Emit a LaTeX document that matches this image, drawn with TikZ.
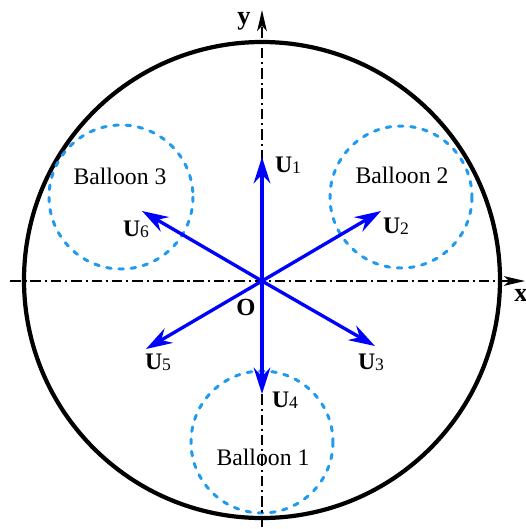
\documentclass[tikz,border=0pt]{standalone}
\usepackage{fontspec}
\setmainfont{Liberation Serif}
\usetikzlibrary{arrows.meta}
\definecolor{vecblue}{HTML}{0000FF}
\definecolor{sky}{HTML}{1E9BF0}
\newcommand{\uvec}[1]{{\bfseries U}{\fontsize{10pt}{12pt}\selectfont\raisebox{-0.5pt}{#1}}}
\tikzset{
  wall/.style={draw=black, line width=2.4pt},
  balloon/.style={draw=sky, line width=1.7pt, line cap=round, dash pattern=on 2.6pt off 4.4pt},
  axisline/.style={-{Stealth[length=12pt,width=5.5pt,inset=3pt]}, line width=1pt,
    dash pattern=on 6pt off 2.2pt on 1.2pt off 2.2pt},
  vec/.style={-{Stealth[length=15pt,width=9.5pt,inset=5pt]}, line width=1.9pt, draw=vecblue},
  lab/.style={font=\fontsize{13.5pt}{16pt}\selectfont, text=black, inner sep=1pt},
  axlab/.style={font=\fontsize{15pt}{18pt}\selectfont\bfseries, inner sep=1pt},
}
\begin{document}
\begin{tikzpicture}[x=0.02cm, y=-0.02cm]
  \useasboundingbox (0,0) rectangle (526,529);
  \coordinate (O) at (262,281);
  % outer wall and balloons
  \draw[wall] (262,280) circle (238);
  \draw[balloon] (401,197) circle (71);
  \draw[balloon] (121,197) circle (72);
  \draw[balloon] (262,442) circle (71);
  % axes
  \coordinate (xl) at (10,281);
  \coordinate (xr) at (525,281);
  \coordinate (yb) at (262,527);
  \coordinate (yt) at (262,10);
  \draw[axisline] (xl) -- (xr);
  \draw[axisline] (yb) -- (yt);
  \node[axlab] (xlab) at (521,295) {x};
  \node[axlab] (ylab) at (244,21) {y};
  % velocity vectors
  \coordinate (t1) at (262,157);
  \coordinate (t2) at (381,211);
  \coordinate (t3) at (375,346);
  \coordinate (t4) at (262,394);
  \coordinate (t5) at (146,349);
  \coordinate (t6) at (142,211);
  \foreach \i in {1,...,6}
    \draw[vec] (O) -- (t\i);
  \node[lab] (u1) at (288,165) {\uvec{1}};
  \node[lab] (u2) at (396,226) {\uvec{2}};
  \node[lab] (u3) at (371,362) {\uvec{3}};
  \node[lab] (u4) at (285,400) {\uvec{4}};
  \node[lab] (u5) at (158,362) {\uvec{5}};
  \node[lab] (u6) at (136,229) {\uvec{6}};
  \node[lab, font=\fontsize{14pt}{16pt}\selectfont\bfseries] (olab) at (246,307) {O};
  \node[lab] (b3) at (120,176) {Balloon 3};
  \node[lab] (b2) at (402,175) {Balloon 2};
  \node[lab] (b1) at (263,457) {Balloon 1};
\end{tikzpicture}
\end{document}
